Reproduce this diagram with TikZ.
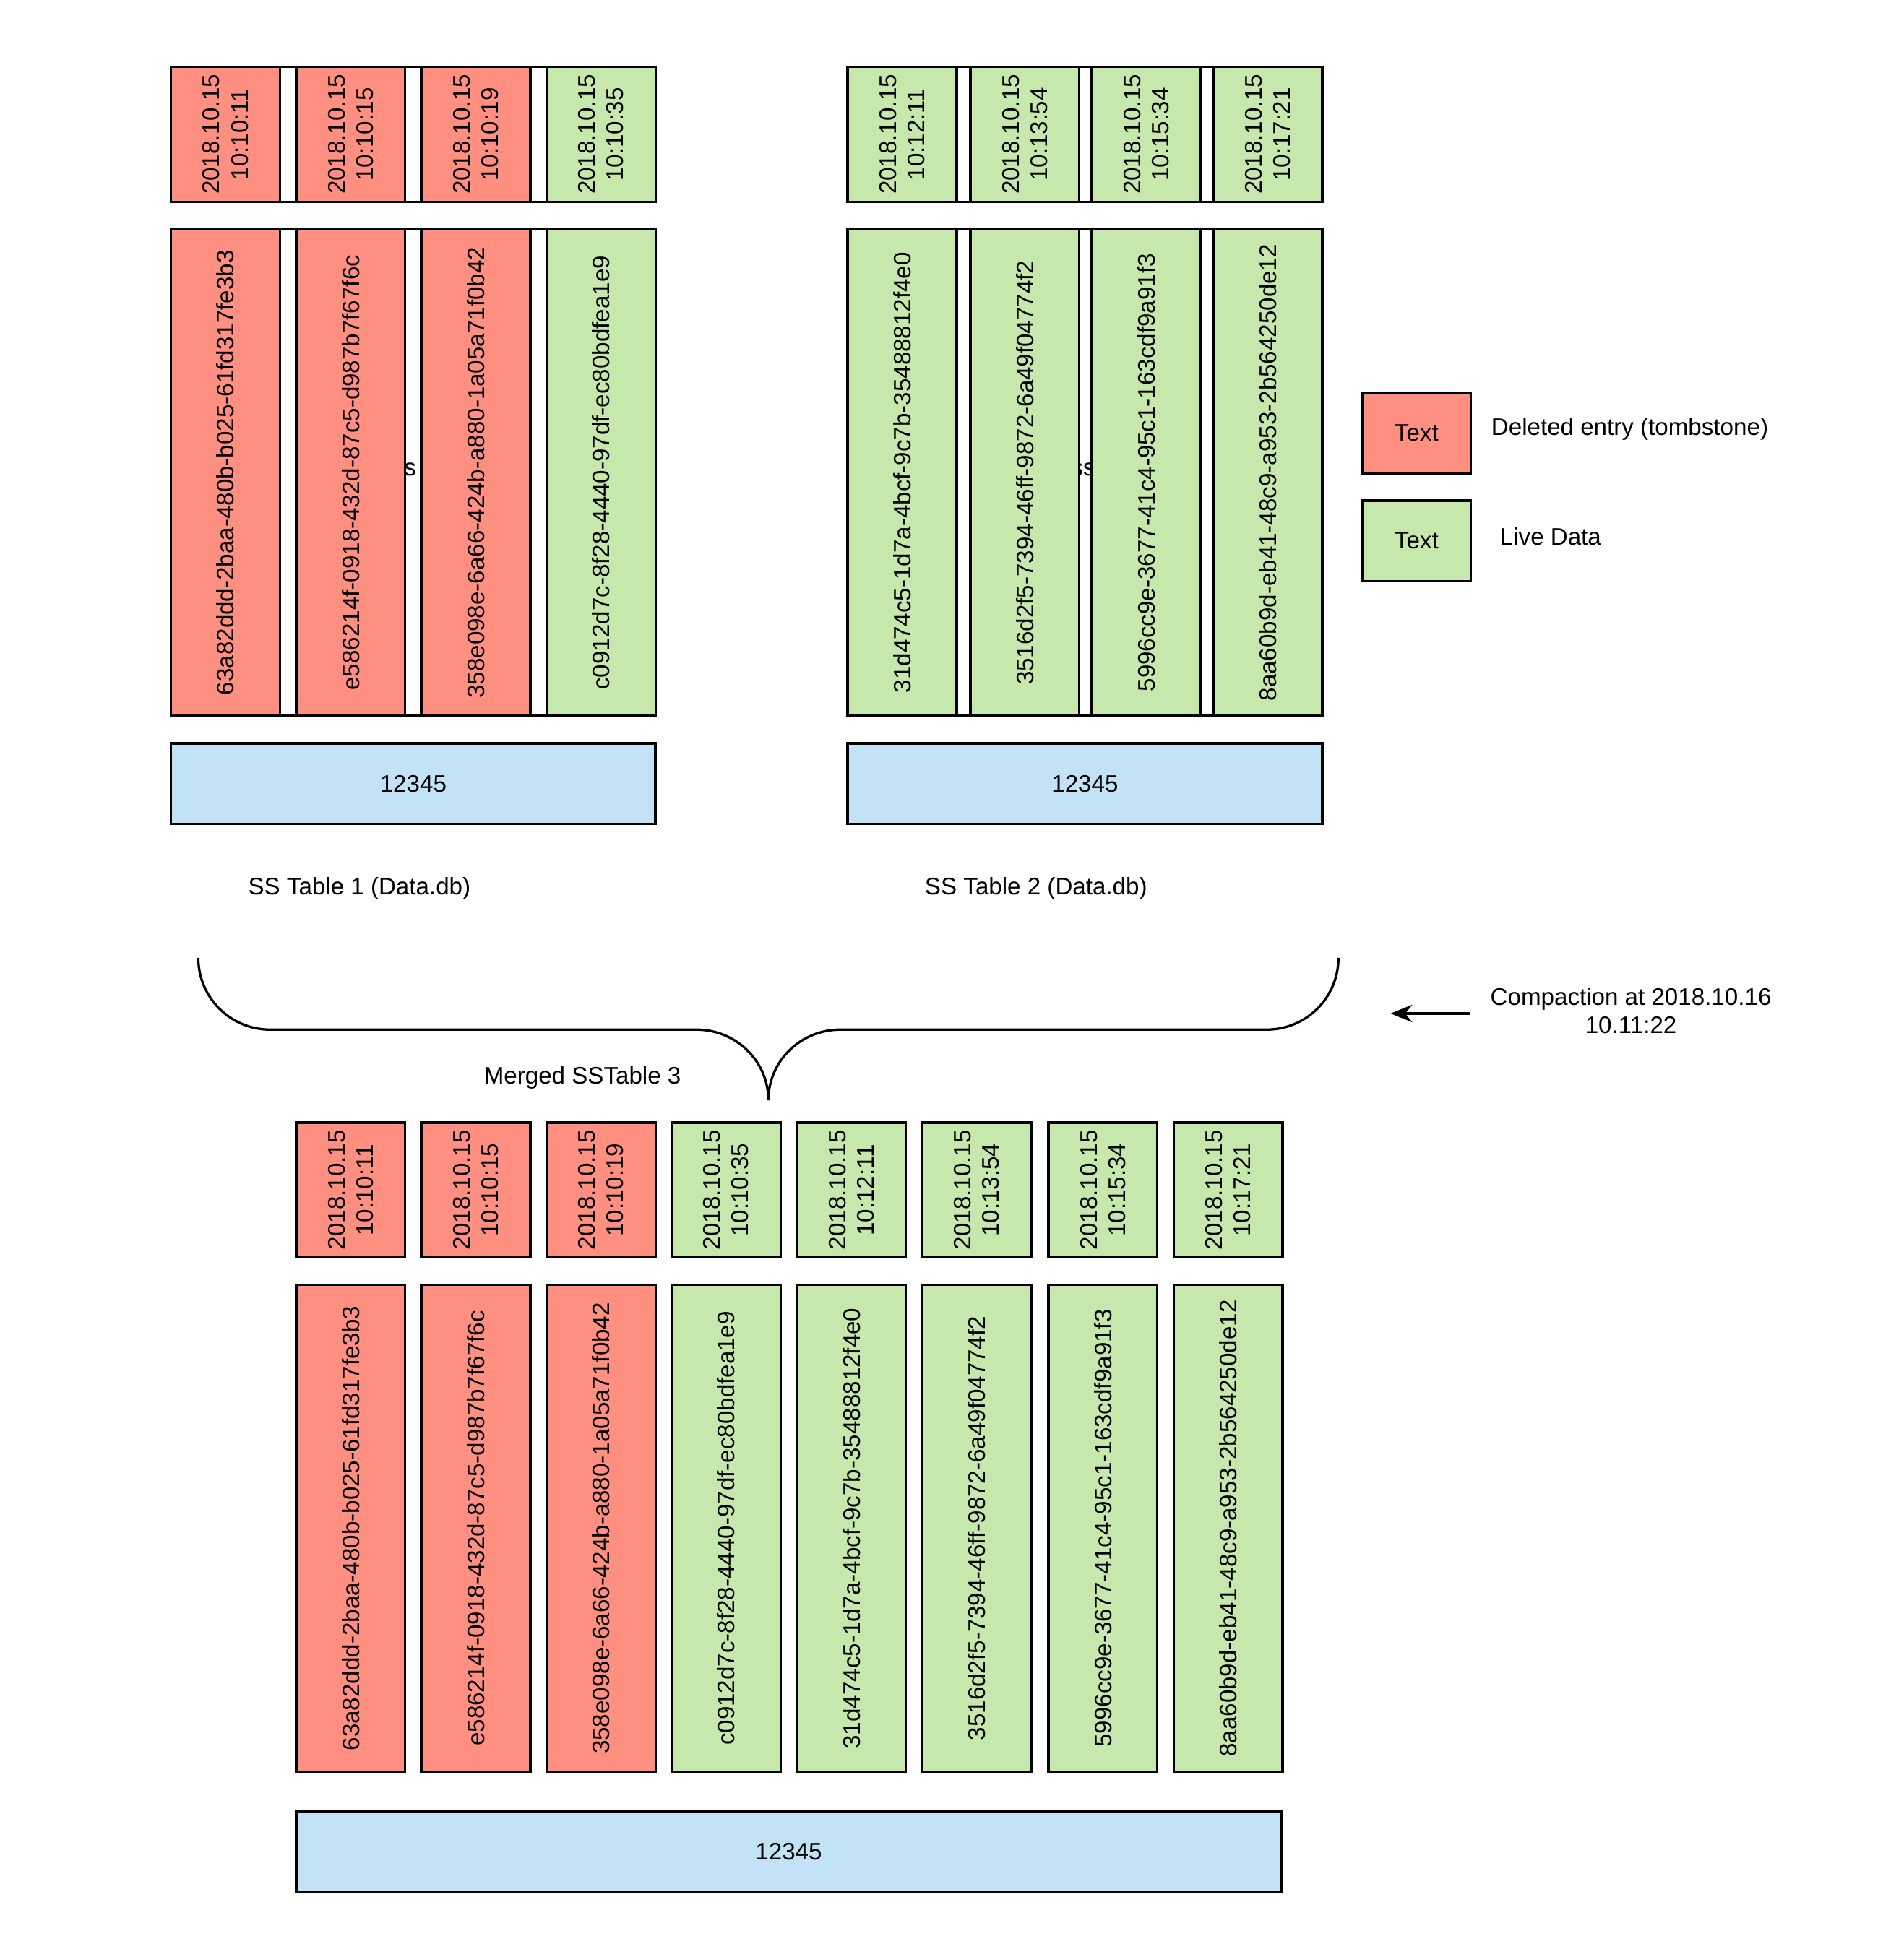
\documentclass[tikz,border=0pt]{standalone}
\usepackage{fontspec}
\setmainfont{Liberation Sans}
\usetikzlibrary{arrows.meta}
\definecolor{dead}{HTML}{FF8F80}
\definecolor{live}{HTML}{C7E8AC}
\definecolor{idx}{HTML}{C1E3F5}
\tikzset{
  cell/.style={draw=black,line width=1.1pt,inner sep=0pt,anchor=north west},
  ts/.style={cell,minimum width=1.76cm,minimum height=2.18cm},
  key/.style={cell,minimum width=1.76cm,minimum height=7.86cm},
  bar/.style={cell,fill=idx,minimum height=1.3cm,font=\fontsize{11}{13}\selectfont},
  txt/.style={font=\fontsize{11}{13}\selectfont,inner sep=0pt},
  vtxt/.style={txt,rotate=90,align=center},
}
\begin{document}
\begin{tikzpicture}[x=0.02cm,y=-0.02cm]
\useasboundingbox (0,0) rectangle (1536,1569);
% background frames behind the top tables
\node[cell,fill=white,minimum width=7.82cm,minimum height=2.18cm] (bgA1) at (137,53) {};
\node[cell,fill=white,minimum width=7.82cm,minimum height=7.86cm] (bgA2) at (137,184) {};
\node[txt] (sA) at (331,379) {s};
\node[cell,fill=white,minimum width=7.66cm,minimum height=2.18cm] (bgB1) at (683,53) {};
\node[cell,fill=white,minimum width=7.66cm,minimum height=7.86cm] (bgB2) at (683,184) {};
\node[txt] (sB) at (874,379) {ss};
% SS Table 1
\foreach \x/\c/\t/\k [count=\i] in {
  137/dead/10:10:11/63a82ddd-2baa-480b-b025-61fd317fe3b3,
  238/dead/10:10:15/e586214f-0918-432d-87c5-d987b7f67f6c,
  339/dead/10:10:19/358e098e-6a66-424b-a880-1a05a71f0b42,
  440/live/10:10:35/c0912d7c-8f28-4440-97df-ec80bdfea1e9}{
  \node[ts,fill=\c] (a\i t) at (\x,53) {};
  \node[vtxt] (a\i tt) at (a\i t.center) {2018.10.15\\\t};
  \node[key,fill=\c] (a\i k) at (\x,184) {};
  \node[vtxt] (a\i kt) at (a\i k.center) {\k};
}
\node[bar,minimum width=7.82cm] (a bar) at (137,599) {12345};
\node[txt] (a cap) at (290,717) {SS Table 1 (Data.db)};
% SS Table 2
\foreach \x/\t/\k [count=\i] in {
  683/10:12:11/31d474c5-1d7a-4bcf-9c7b-35488812f4e0,
  782/10:13:54/3516d2f5-7394-46ff-9872-6a49f04774f2,
  880/10:15:34/5996cc9e-3677-41c4-95c1-163cdf9a91f3,
  978/10:17:21/8aa60b9d-eb41-48c9-a953-2b564250de12}{
  \node[ts,fill=live] (b\i t) at (\x,53) {};
  \node[vtxt] (b\i tt) at (b\i t.center) {2018.10.15\\\t};
  \node[key,fill=live] (b\i k) at (\x,184) {};
  \node[vtxt] (b\i kt) at (b\i k.center) {\k};
}
\node[bar,minimum width=7.66cm] (b bar) at (683,599) {12345};
\node[txt] (b cap) at (836,717) {SS Table 2 (Data.db)};
% legend
\node[cell,fill=dead,minimum width=1.76cm,minimum height=1.3cm,font=\fontsize{11}{13}\selectfont] (l1) at (1098,316) {Text};
\node[txt,anchor=west] (l1t) at (1203,346) {Deleted entry (tombstone)};
\node[cell,fill=live,minimum width=1.76cm,minimum height=1.3cm,font=\fontsize{11}{13}\selectfont] (l2) at (1098,403) {Text};
\node[txt,anchor=west] (l2t) at (1210,433) {Live Data};
% brace
\coordinate (brL) at (160,773);
\coordinate (brM) at (620,888);
\coordinate (brR) at (1080,773);
\draw[line width=1.1pt] (brL) to[out=-90,in=180] (218,831) -- (562,831)
  to[out=0,in=90] (brM) to[out=90,in=180] (678,831) -- (1022,831)
  to[out=0,in=-90] (brR);
\node[txt,align=center] (comp) at (1316,816) {Compaction at 2018.10.16\\10.11:22};
\coordinate (arS) at (1186,818);
\coordinate (arE) at (1122,818);
\draw[line width=1.1pt,-{Stealth[length=10pt,width=8pt]}] (arS) -- (arE);
\node[txt] (m cap) at (470,870) {Merged SSTable 3};
% merged table
\foreach \x/\c/\t/\k [count=\i] in {
  238/dead/10:10:11/63a82ddd-2baa-480b-b025-61fd317fe3b3,
  339/dead/10:10:15/e586214f-0918-432d-87c5-d987b7f67f6c,
  440/dead/10:10:19/358e098e-6a66-424b-a880-1a05a71f0b42,
  541/live/10:10:35/c0912d7c-8f28-4440-97df-ec80bdfea1e9,
  642/live/10:12:11/31d474c5-1d7a-4bcf-9c7b-35488812f4e0,
  743/live/10:13:54/3516d2f5-7394-46ff-9872-6a49f04774f2,
  845/live/10:15:34/5996cc9e-3677-41c4-95c1-163cdf9a91f3,
  946/live/10:17:21/8aa60b9d-eb41-48c9-a953-2b564250de12}{
  \node[ts,fill=\c] (m\i t) at (\x,905) {};
  \node[vtxt] (m\i tt) at (m\i t.center) {2018.10.15\\\t};
  \node[key,fill=\c] (m\i k) at (\x,1036) {};
  \node[vtxt] (m\i kt) at (m\i k.center) {\k};
}
\node[bar,minimum width=15.9cm] (m bar) at (238,1461) {12345};
\end{tikzpicture}
\end{document}
